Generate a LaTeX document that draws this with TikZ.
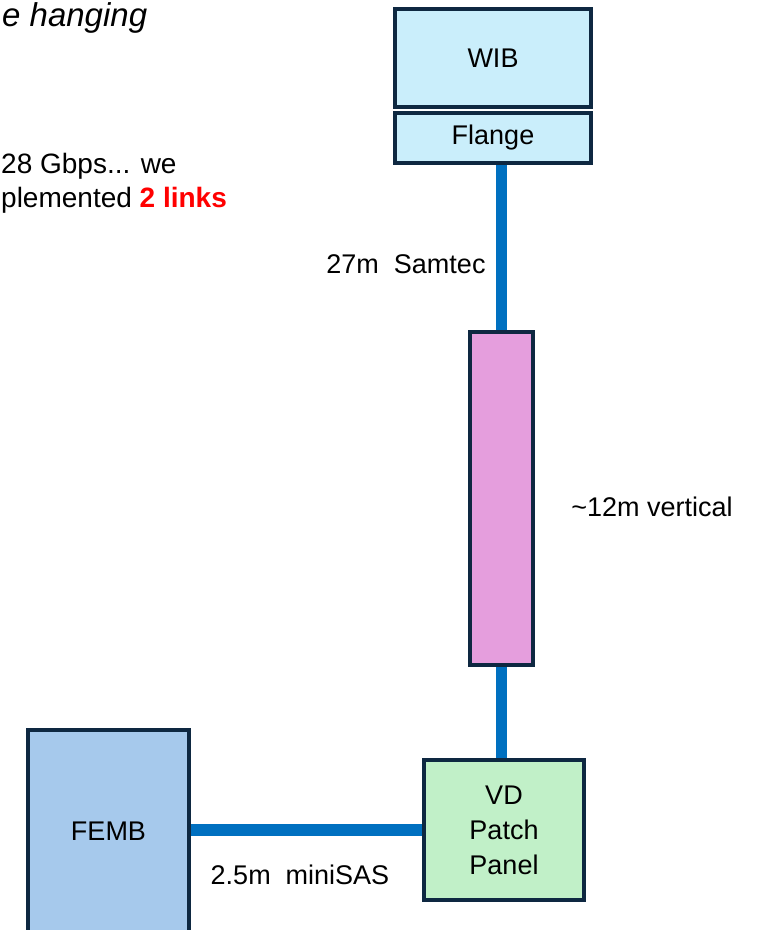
\documentclass[tikz,border=0pt]{standalone}
\usepackage{fontspec}
\setmainfont{Liberation Sans}
\usepackage{tikz}
\usetikzlibrary{positioning,calc}
\usepackage{xcolor}
\definecolor{Frame}{HTML}{0E2841}
\definecolor{Cable}{HTML}{0070C0}
\definecolor{WibFill}{HTML}{CAEEFB}
\definecolor{CabFill}{HTML}{E59EDD}
\definecolor{FembFill}{HTML}{A6C9EC}
\definecolor{PatchFill}{HTML}{C1F0C8}
\newcommand{\BoxFont}{\fontsize{27}{35}\selectfont}

\begin{document}
\begin{tikzpicture}[x=1pt,y=-1pt,
  unit/.style={draw=Frame,line width=3.6pt,inner sep=0pt,align=center,font=\BoxFont},
  wire/.style={Cable,line width=11.5pt},
  cablelabel/.style={font=\BoxFont,inner sep=0pt},
  sidetext/.style={anchor=base west,inner sep=0pt,font=\fontsize{28}{34}\selectfont}]
\clip (0,0) rectangle (761,930);
% boxes
\node[unit,fill=WibFill,minimum width=196,minimum height=98] (wib) at (493,58) {WIB};
\node[unit,fill=WibFill,minimum width=196,minimum height=50] (flange) at (493,138) {Flange};
\node[unit,fill=CabFill,minimum width=63,minimum height=333] (vert) at (501.5,498.5) {};
\node[unit,fill=PatchFill,minimum width=160,minimum height=140] (patch) at (504,830) {VD\\Patch\\Panel};
\node[unit,fill=FembFill,minimum width=161,minimum height=220] (femb) at (108.5,840) {};
\node[font=\BoxFont] (fembtxt) at (108.5,831) {FEMB};
% cables
\draw[wire] (vert.north) -- (vert.north |- flange.south);
\draw[wire] (vert.south) -- (vert.south |- patch.north);
\draw[wire] (patch.west) -- (patch.west -| femb.east);
\node[cablelabel] (samtec) at (406,264) {27m\ \ Samtec};
\node[cablelabel] (vertlbl) at (652,507) {\textasciitilde12m vertical};
\node[cablelabel] (minisas) at (300,875) {2.5m\ \ miniSAS};
% text on the left
\node[sidetext,font=\fontsize{33}{40}\selectfont\itshape] (head) at (2,26) {e hanging};
\node[sidetext] (note1) at (1,173) {28 Gbps... we};
\node[sidetext] (note2) at (1,207) {plemented \textcolor{red}{\bfseries 2 links}};
\end{tikzpicture}
\end{document}
